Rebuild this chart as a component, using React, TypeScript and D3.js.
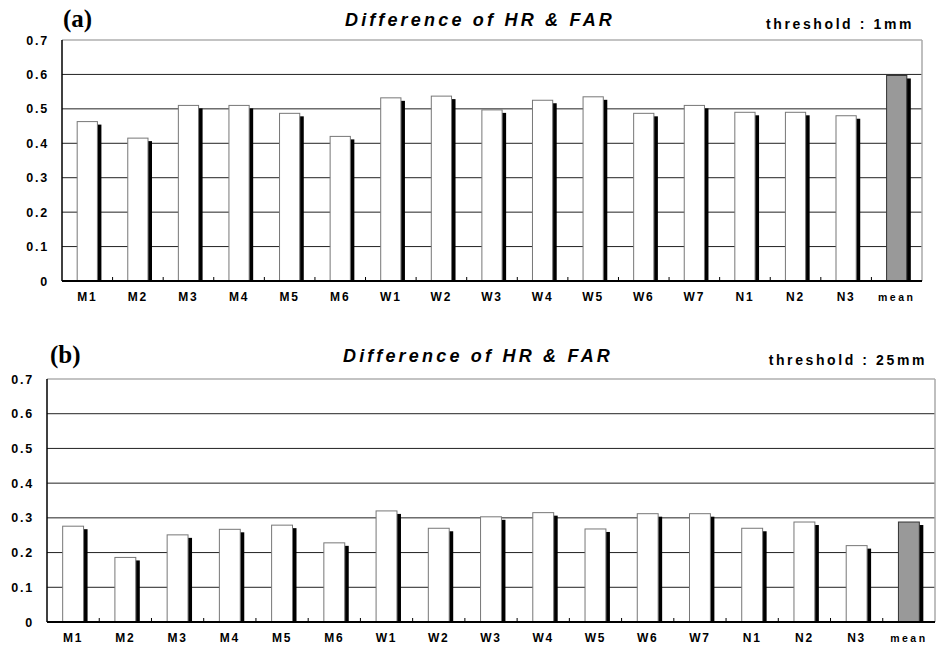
import React, { useEffect, useRef } from 'react';
import * as d3 from 'd3';

const categories = ['M1', 'M2', 'M3', 'M4', 'M5', 'M6', 'W1', 'W2', 'W3', 'W4', 'W5', 'W6', 'W7', 'N1', 'N2', 'N3', 'mean'];
const valuesA = [0.463, 0.415, 0.51, 0.51, 0.487, 0.42, 0.532, 0.537, 0.497, 0.525, 0.535, 0.487, 0.51, 0.49, 0.49, 0.48, 0.597];
const valuesB = [0.276, 0.186, 0.251, 0.267, 0.279, 0.228, 0.32, 0.27, 0.303, 0.315, 0.268, 0.312, 0.312, 0.27, 0.288, 0.22, 0.288];
const yTicks = [0, 0.1, 0.2, 0.3, 0.4, 0.5, 0.6, 0.7];

const App = () => {
    const ref = useRef<SVGSVGElement>(null);

    useEffect(() => {
        const svg = d3.select(ref.current);
        svg.selectAll('*').remove();

        const drawPanel = (opts: any) => {
            const { values, left, right, top, bottom, label, threshold, titleY, labelX, titleX } = opts;
            const g = svg.append('g');

            const x = d3.scaleBand().domain(categories).range([left, right]);
            const y = d3.scaleLinear().domain([0, 0.7]).range([bottom, top]);

            // gridlines
            yTicks.slice(1, -1).forEach(t => {
                g.append('line')
                    .attr('x1', left).attr('x2', right)
                    .attr('y1', y(t)).attr('y2', y(t))
                    .attr('stroke', '#222').attr('stroke-width', 1);
            });
            // top and right border
            g.append('line').attr('x1', left).attr('x2', right).attr('y1', y(0.7)).attr('y2', y(0.7))
                .attr('stroke', '#888').attr('stroke-width', 1.2);
            g.append('line').attr('x1', right).attr('x2', right).attr('y1', y(0.7)).attr('y2', bottom)
                .attr('stroke', '#aaa').attr('stroke-width', 1.5);

            const bw = x.bandwidth() * 0.4;
            categories.forEach((c, i) => {
                const bx = (x(c) as number) + (x.bandwidth() - bw) / 2;
                const by = y(values[i]);
                // shadow
                g.append('rect')
                    .attr('x', bx + 4).attr('y', by + 3)
                    .attr('width', bw).attr('height', bottom - by - 3)
                    .attr('fill', '#000');
                g.append('rect')
                    .attr('x', bx).attr('y', by)
                    .attr('width', bw).attr('height', bottom - by)
                    .attr('fill', c === 'mean' ? '#999' : '#fff')
                    .attr('stroke', c === 'mean' ? '#333' : '#777')
                    .attr('stroke-width', 1);
            });

            // axes
            g.append('line').attr('x1', left).attr('x2', left).attr('y1', y(0.7)).attr('y2', bottom)
                .attr('stroke', '#000').attr('stroke-width', 1.5);
            g.append('line').attr('x1', left).attr('x2', right).attr('y1', bottom).attr('y2', bottom)
                .attr('stroke', '#000').attr('stroke-width', 2);
            categories.slice(1).forEach(c => {
                g.append('line')
                    .attr('x1', x(c) as number).attr('x2', x(c) as number)
                    .attr('y1', bottom).attr('y2', bottom - 4)
                    .attr('stroke', '#000').attr('stroke-width', 1);
            });

            // y tick labels
            yTicks.forEach(t => {
                g.append('text')
                    .attr('x', left - 13).attr('y', y(t) + 4.5)
                    .attr('text-anchor', 'end')
                    .style('font-family', 'Liberation Sans, Arial, sans-serif')
                    .style('font-weight', 'bold').style('font-size', '12.5px')
                    .style('letter-spacing', '1.8px')
                    .text(t === 0 ? '0' : t.toFixed(1));
            });

            // x labels
            categories.forEach(c => {
                g.append('text')
                    .attr('x', (x(c) as number) + x.bandwidth() / 2).attr('y', bottom + 20)
                    .attr('text-anchor', 'middle')
                    .style('font-family', 'Liberation Sans, Arial, sans-serif')
                    .style('font-weight', 'bold').style('font-size', c === 'mean' ? '10.5px' : '12px')
                    .style('letter-spacing', c === 'mean' ? '2.5px' : '1.8px')
                    .text(c);
            });

            // panel label
            g.append('text')
                .attr('x', labelX).attr('y', titleY + 1)
                .style('font-family', 'Liberation Serif, Times New Roman, serif')
                .style('font-weight', 'bold').style('font-size', '25px')
                .text(label);

            g.append('text')
                .attr('x', titleX).attr('y', titleY)
                .attr('text-anchor', 'middle')
                .style('font-family', 'Liberation Sans, Arial, sans-serif')
                .style('font-weight', 'bold').style('font-style', 'italic').style('font-size', '18px')
                .style('letter-spacing', '3.2px')
                .text('Difference of HR & FAR');

            g.append('text')
                .attr('x', right - 8).attr('y', titleY + 3)
                .attr('text-anchor', 'end')
                .style('font-family', 'Liberation Sans, Arial, sans-serif')
                .style('font-weight', 'bold').style('font-size', '14px')
                .style('letter-spacing', '2.6px')
                .text(threshold);
        };

        drawPanel({ values: valuesA, left: 62, right: 922, top: 40, bottom: 281, label: '(a)', threshold: 'threshold : 1mm', titleY: 26, labelX: 63, titleX: 480 });
        drawPanel({ values: valuesB, left: 47, right: 935, top: 379, bottom: 622, label: '(b)', threshold: 'threshold : 25mm', titleY: 362, labelX: 50, titleX: 478 });
    }, []);

    return (
        <svg ref={ref} width={936} height={645} style={{ position: 'absolute', left: 0, top: 0, background: '#fff' }} />
    );
};

export default App;
